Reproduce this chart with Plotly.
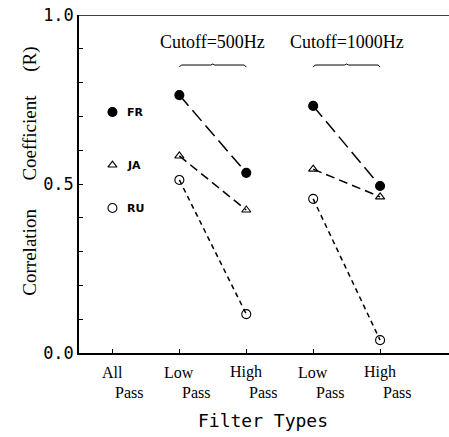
import plotly.graph_objects as go

# ---- data ----
filter_types = ["All Pass", "Low Pass", "High Pass", "Low Pass", "High Pass"]
tick_line1 = ["All", "Low", "High", "Low", "High"]
tick_line2 = ["Pass", "Pass", "Pass", "Pass", "Pass"]
positions = [1, 2, 3, 4, 5]
cutoff_labels = ["Cutoff=500Hz", "Cutoff=1000Hz"]
languages = ["FR", "JA", "RU"]
fr_vals = [0.763, 0.533, 0.731, 0.494]   # LP500, HP500, LP1000, HP1000
ja_vals = [0.583, 0.423, 0.544, 0.462]
ru_vals = [0.512, 0.115, 0.456, 0.038]
legend_y = [0.713, 0.556, 0.429]
y_ticks = [round(i * 0.1, 1) for i in range(11)]
y_ticklabels = {0.0: "0.0", 0.5: "0.5", 1.0: "1.0"}

series = [
    ("FR", fr_vals, "circle", "14px,6px", 9),
    ("JA", ja_vals, "triangle-up-open", "9px,5px", 8),
    ("RU", ru_vals, "circle-open", "5px,4px", 9),
]

fig = go.Figure()
for name, vals, sym, dash, msize in series:
    xs = [positions[1], positions[2], None, positions[3], positions[4]]
    ys = [vals[0], vals[1], None, vals[2], vals[3]]
    fig.add_trace(go.Scatter(
        x=xs, y=ys, mode="lines+markers", name=name,
        line=dict(color="black", width=1.5, dash=dash),
        marker=dict(symbol=sym, size=msize, color="black",
                    line=dict(color="black", width=1.1)),
        connectgaps=False, showlegend=False,
    ))

# legend-like markers at All Pass column
for (name, vals, sym, dash, msize), ly in zip(series, legend_y):
    fig.add_trace(go.Scatter(
        x=[positions[0]], y=[ly], mode="markers",
        marker=dict(symbol=sym, size=msize, color="black",
                    line=dict(color="black", width=1.1)),
        showlegend=False,
    ))
    fig.add_annotation(x=positions[0], y=ly, text="<b>" + name + "</b>",
                       xanchor="left", yanchor="middle", xshift=13, showarrow=False,
                       font=dict(family="DejaVu Sans", size=11, color="black"))

# x tick labels (two lines)
for p, l1, l2 in zip(positions, tick_line1, tick_line2):
    fig.add_annotation(x=p, y=0, yref="y", text=l1, showarrow=False,
                       xanchor="center", yanchor="middle", yshift=-19,
                       font=dict(family="Liberation Serif", size=16, color="black"))
    fig.add_annotation(x=p, y=0, yref="y", text=l2, showarrow=False,
                       xanchor="center", yanchor="middle", xshift=17, yshift=-39,
                       font=dict(family="Liberation Serif", size=16, color="black"))

# cutoff labels and brackets
for (a, b), lab in zip([(positions[1], positions[2]), (positions[3], positions[4])], cutoff_labels):
    mid = (a + b) / 2
    fig.add_annotation(x=mid, y=0.921, text=lab, showarrow=False,
                       xanchor="center", yanchor="middle",
                       font=dict(family="Liberation Serif", size=18, color="black"))
    path = (f"M {a},0.846 L {a+0.03},0.852 L {mid-0.03},0.852 L {mid},0.855 "
            f"L {mid+0.03},0.852 L {b-0.03},0.852 L {b},0.846")
    fig.add_shape(type="path", path=path, xref="x", yref="y",
                  line=dict(color="black", width=1))

# top frame line
fig.add_shape(type="line", xref="paper", yref="y", x0=0, x1=1, y0=1, y1=1,
              line=dict(color="black", width=1.5))

# y axis title
sp = "\u00a0"
fig.add_annotation(xref="paper", yref="paper", x=-0.132, y=0.537,
                   xanchor="center", yanchor="middle",
                   text="Correlation" + sp * 6 + "Coefficient" + sp * 5 + "(R)",
                   textangle=-90, showarrow=False,
                   font=dict(family="Liberation Serif", size=19, color="black"))
# x axis title
fig.add_annotation(xref="x", yref="paper", x=3.25, y=0, yshift=-67,
                   xanchor="center", yanchor="middle",
                   text="Filter Types", showarrow=False,
                   font=dict(family="DejaVu Sans Mono", size=18, color="black"))

fig.update_xaxes(range=[0.5, 6.03], tickvals=positions, ticktext=[""] * 5,
                 ticks="inside", ticklen=4, tickcolor="black",
                 showline=True, linecolor="black", linewidth=1.5,
                 showgrid=False, zeroline=False)
fig.update_yaxes(range=[0, 1], tickvals=y_ticks,
                 ticktext=[y_ticklabels.get(v, "") for v in y_ticks],
                 ticks="inside", ticklen=4, tickcolor="black",
                 tickfont=dict(family="DejaVu Sans Mono", size=17, color="black"),
                 showline=True, linecolor="black", linewidth=1.5,
                 showgrid=False, zeroline=False)

fig.update_layout(width=449, height=437, paper_bgcolor="white", plot_bgcolor="white",
                  margin=dict(l=79, r=0, t=15, b=84))
fig.write_html("out.html", config={"displayModeBar": False},
               post_script="document.body.style.margin='0';document.body.style.overflow='hidden';")
